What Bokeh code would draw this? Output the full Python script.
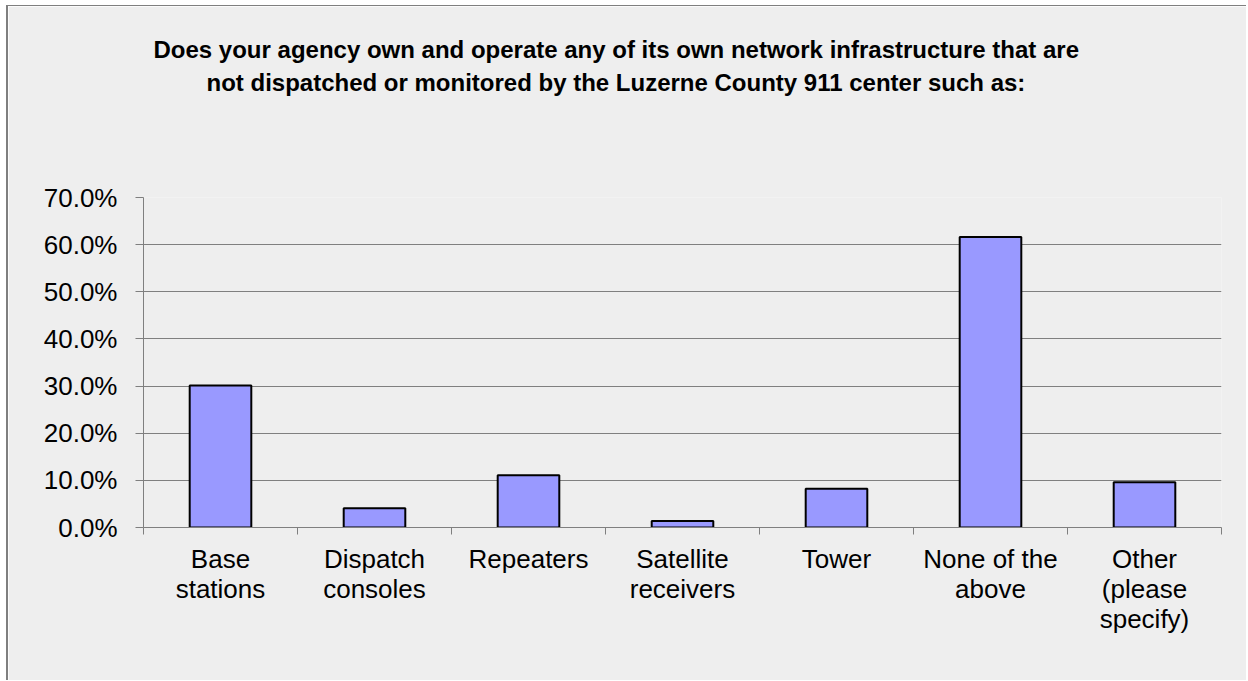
from bokeh.plotting import figure
from bokeh.models import (Range1d, LinearAxis, FixedTicker, NumeralTickFormatter, Title,
                          ColumnDataSource)
from bokeh.embed import file_html
from bokeh.resources import INLINE

categories = ["Base\nstations", "Dispatch\nconsoles", "Repeaters", "Satellite\nreceivers",
              "Tower", "None of the\nabove", "Other\n(please\nspecify)"]
values = [0.301, 0.041, 0.111, 0.014, 0.082, 0.616, 0.096]
y_ticks = [0.0, 0.1, 0.2, 0.3, 0.4, 0.5, 0.6, 0.7]
title_lines = ["Does your agency own and operate any of its own network infrastructure that are",
               "not dispatched or monitored by the Luzerne County 911 center such as:"]

FONT = "Liberation Sans"
BG = "#EEEEEE"
n = len(categories)
centers = [i + 0.5 for i in range(n)]

p = figure(x_range=Range1d(0, n), y_range=Range1d(0, 0.7),
           width=1240, height=675, output_backend="svg", toolbar_location=None,
           x_axis_location=None, y_axis_location=None,
           min_border_left=135, min_border_right=27, min_border_top=191, min_border_bottom=154)
p.margin = (5, 0, 0, 6)
p.styles = {"border-left": "2px solid #7f7f7f", "border-top": "1px solid #7f7f7f"}
p.background_fill_color = BG
p.border_fill_color = BG
p.outline_line_color = None

yaxis = LinearAxis(ticker=FixedTicker(ticks=y_ticks), formatter=NumeralTickFormatter(format="0.0%"))
yaxis.axis_line_color = "#7f7f7f"
yaxis.major_tick_line_color = "#7f7f7f"
yaxis.major_tick_out = 8
yaxis.major_tick_in = 0
yaxis.minor_tick_line_color = None
yaxis.major_label_text_font = FONT
yaxis.major_label_text_font_size = "26px"
yaxis.major_label_text_color = "black"
yaxis.major_label_standoff = 18
p.add_layout(yaxis, "left")

xaxis = LinearAxis(ticker=FixedTicker(ticks=centers, minor_ticks=list(range(n + 1))))
xaxis.major_label_overrides = {c: lab for c, lab in zip(centers, categories)}
xaxis.axis_line_color = "#7f7f7f"
xaxis.major_tick_line_color = None
xaxis.minor_tick_line_color = "#7f7f7f"
xaxis.minor_tick_out = 7
xaxis.minor_tick_in = 0
xaxis.major_tick_out = 0
xaxis.major_tick_in = 0
xaxis.major_label_text_font = FONT
xaxis.major_label_text_font_size = "26px"
xaxis.major_label_text_line_height = 1.0
xaxis.major_label_text_color = "black"
xaxis.major_label_standoff = 9
p.add_layout(xaxis, "below")

p.ygrid.ticker = FixedTicker(ticks=y_ticks)
p.ygrid.grid_line_color = "#7f7f7f"
p.ygrid.grid_line_width = 1
p.xgrid.grid_line_color = None

src = ColumnDataSource(dict(x=centers, top=values, label=categories))
p.vbar(x="x", top="top", width=0.4, bottom=0, source=src,
       fill_color="#9999FF", line_color="black", line_width=2)

# panels above the frame stack outward: spacer, then title line 2, then title line 1
spacer = Title(text=" ", standoff=71, text_font=FONT, text_font_size="24px")
t2 = Title(text=title_lines[1], align="left", offset=63, standoff=4,
           text_font=FONT, text_font_size="24px", text_font_style="bold", text_color="black")
t1 = Title(text=title_lines[0], align="left", offset=10, standoff=4,
           text_font=FONT, text_font_size="24px", text_font_style="bold", text_color="black")
p.add_layout(spacer, "above")
p.add_layout(t2, "above")
p.add_layout(t1, "above")

open("out.html", "w").write(file_html(p, INLINE))
